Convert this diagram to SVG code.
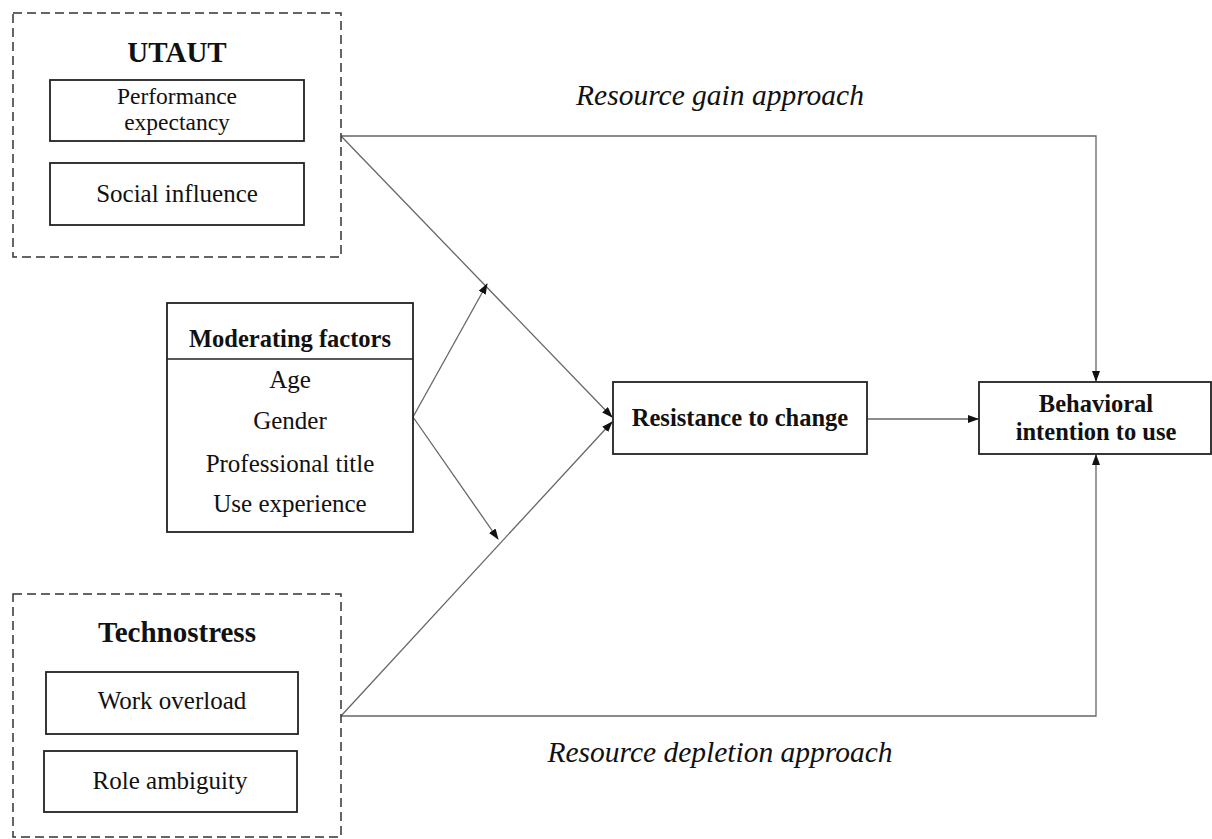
<svg xmlns="http://www.w3.org/2000/svg" width="1212" height="839" viewBox="0 0 1212 839">
<style>
.dash{fill:none;stroke:#333;stroke-width:1.5;stroke-dasharray:9 5}
.box{fill:#fff;stroke:#222;stroke-width:1.8}
.t{font-family:"Liberation Serif","Times New Roman",serif;font-size:25px;fill:#111;text-anchor:middle}
.s{font-size:23.5px}
.b{font-weight:bold;font-size:24.5px}
.h{font-family:"Liberation Serif","Times New Roman",serif;font-size:29px;font-weight:bold;fill:#111;text-anchor:middle}
.i{font-family:"Liberation Serif","Times New Roman",serif;font-size:29.5px;font-style:italic;fill:#111;text-anchor:middle}
.c{fill:none;stroke:#666;stroke-width:1.3}
</style>
<defs>
<marker id="ah" markerUnits="userSpaceOnUse" markerWidth="11" markerHeight="8" refX="10" refY="4" orient="auto">
<path d="M0,0 L11,4 L0,8 z" fill="#111"/>
</marker>
</defs>
<rect width="1212" height="839" fill="#fff"/>
<g id="connectors">
<polyline class="c" points="341,136 1096,136 1096,381" marker-end="url(#ah)"/>
<polyline class="c" points="341,716 1096,716 1096,455" marker-end="url(#ah)"/>
<line class="c" x1="341" y1="136" x2="612" y2="417" marker-end="url(#ah)"/>
<line class="c" x1="341" y1="716" x2="612" y2="422" marker-end="url(#ah)"/>
<line class="c" x1="413" y1="417" x2="487" y2="284" marker-end="url(#ah)"/>
<line class="c" x1="413" y1="417" x2="498" y2="539" marker-end="url(#ah)"/>
<line class="c" x1="867" y1="419" x2="978" y2="419" marker-end="url(#ah)"/>
</g>
<g id="utaut">
<rect class="dash" x="13" y="13" width="328" height="244"/>
<text class="h" x="177" y="62">UTAUT</text>
</g>
<g id="performance-expectancy">
<rect class="box" x="50" y="80" width="254" height="61"/>
<text class="t s" x="177" y="104">Performance</text>
<text class="t s" x="177" y="130">expectancy</text>
</g>
<g id="social-influence">
<rect class="box" x="50" y="163" width="254" height="62"/>
<text class="t" x="177" y="202">Social influence</text>
</g>
<g id="moderating-factors">
<rect class="box" x="167" y="303" width="246" height="229"/>
<line x1="167" y1="359" x2="413" y2="359" stroke="#222" stroke-width="1.5"/>
<text class="t b" x="290" y="347">Moderating factors</text>
<text class="t" x="290" y="388">Age</text>
<text class="t" x="290" y="429">Gender</text>
<text class="t" x="290" y="472">Professional title</text>
<text class="t" x="290" y="512">Use experience</text>
</g>
<g id="resistance-to-change">
<rect class="box" x="613" y="382" width="254" height="72"/>
<text class="t b" x="740" y="426">Resistance to change</text>
</g>
<g id="behavioral-intention">
<rect class="box" x="979" y="382" width="232" height="72"/>
<text class="t b" x="1096" y="412">Behavioral</text>
<text class="t b" x="1096" y="440">intention to use</text>
</g>
<g id="technostress">
<rect class="dash" x="13" y="594" width="328" height="243"/>
<text class="h" x="177" y="642">Technostress</text>
</g>
<g id="work-overload">
<rect class="box" x="46" y="672" width="252" height="62"/>
<text class="t" x="172" y="709">Work overload</text>
</g>
<g id="role-ambiguity">
<rect class="box" x="44" y="751" width="253" height="61"/>
<text class="t" x="170" y="789">Role ambiguity</text>
</g>
<g id="labels">
<text class="i" x="720" y="105">Resource gain approach</text>
<text class="i" x="720" y="762">Resource depletion approach</text>
</g>
</svg>
